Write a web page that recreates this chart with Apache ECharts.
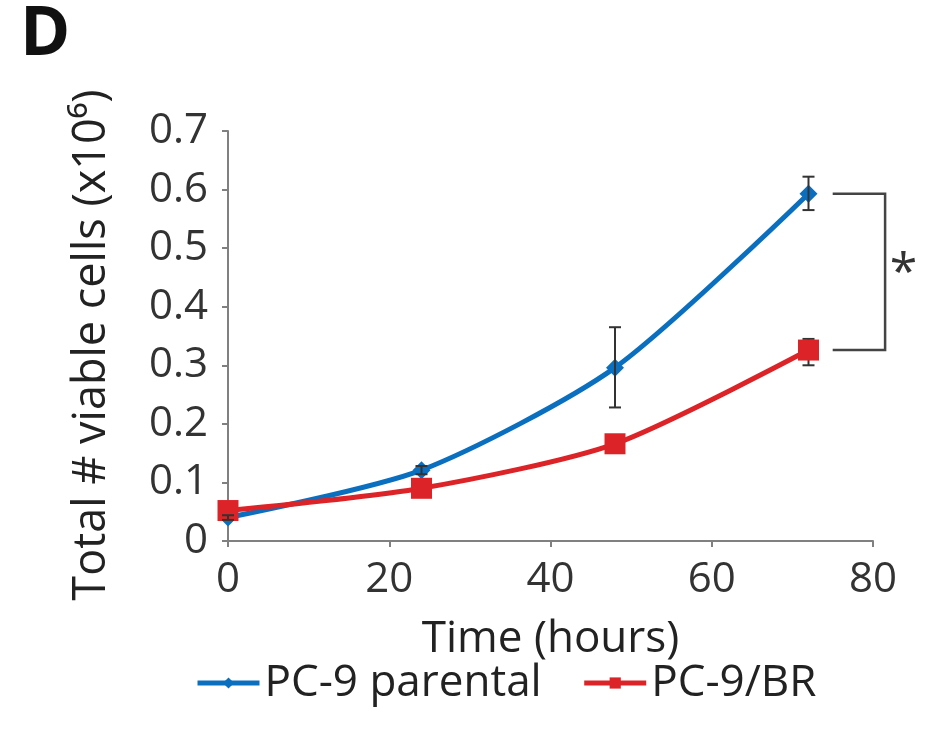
<!DOCTYPE html>
<html><head><meta charset="utf-8">
<script src="https://cdn.jsdelivr.net/npm/echarts@6/dist/echarts.min.js"></script>
<style>html,body{margin:0;padding:0;background:#fff}#c{width:930px;height:736px}</style>
</head><body><div id="c"></div>
<script>
var timePoints = [0, 24, 48, 72];
var parental = [0.040, 0.121, 0.296, 0.593];
var parentalLow = [0.036, 0.114, 0.228, 0.565];
var parentalHigh = [0.044, 0.128, 0.365, 0.622];
var resistant = [0.052, 0.090, 0.166, 0.326];
var resistantLow = [0.046, 0.084, 0.158, 0.300];
var resistantHigh = [0.058, 0.096, 0.174, 0.345];
var seriesNames = ['PC-9 parental', 'PC-9/BR'];
var xTicks = [0, 20, 40, 60, 80];
var yTicks = [0, 0.1, 0.2, 0.3, 0.4, 0.5, 0.6, 0.7];
var bracketX = [75, 81.5];
var asteriskPos = [83.8, 0.455];

var FONT = '"Open Sans", "Noto Sans", sans-serif';
var chart = echarts.init(document.getElementById('c'));

function errData(low, high) {
  return timePoints.map(function (t, i) { return [t, low[i], high[i]]; });
}
function errRender(params, api) {
  var x = api.value(0);
  var lo = api.coord([x, api.value(1)]);
  var hi = api.coord([x, api.value(2)]);
  var w = 6;
  var st = { stroke: '#333', lineWidth: 2 };
  return { type: 'group', children: [
    { type: 'line', shape: { x1: lo[0], y1: lo[1], x2: hi[0], y2: hi[1] }, style: st },
    { type: 'line', shape: { x1: lo[0] - w, y1: lo[1], x2: lo[0] + w, y2: lo[1] }, style: st },
    { type: 'line', shape: { x1: hi[0] - w, y1: hi[1], x2: hi[0] + w, y2: hi[1] }, style: st }
  ]};
}

chart.setOption({
  backgroundColor: '#fff',
  animation: false,
  title: {
    text: 'D', left: 15, top: -3,
    textStyle: { fontFamily: FONT, fontSize: 68, fontWeight: 'bold', color: '#111' }
  },
  grid: { left: 228, right: 57, top: 131, bottom: 195, containLabel: false },
  legend: {
    bottom: 26, left: 190,
    itemWidth: 62, itemHeight: 14, itemGap: 40,
    data: seriesNames,
    lineStyle: { width: 5 },
    textStyle: { fontFamily: FONT, fontSize: 44, color: '#222' }
  },
  xAxis: {
    type: 'value', min: 0, max: 80, interval: 20,
    name: 'Time (hours)', nameLocation: 'middle', nameGap: 76,
    nameTextStyle: { fontFamily: FONT, fontSize: 44, color: '#222' },
    axisLine: { lineStyle: { color: '#808080', width: 2 } },
    axisTick: { show: true, length: 6, lineStyle: { color: '#808080', width: 2 } },
    axisLabel: { fontFamily: FONT, fontSize: 42, color: '#333', margin: 18,
      formatter: function (v) { return xTicks.indexOf(v) >= 0 ? String(v) : ''; } },
    splitLine: { show: false }
  },
  yAxis: {
    type: 'value', min: 0, max: 0.7, interval: 0.1,
    name: 'Total # viable cells (x10\u2076)', nameLocation: 'middle', nameGap: 113,
    nameTextStyle: { fontFamily: FONT, fontSize: 45, color: '#222', padding: [0, 18, 0, 0] },
    axisLine: { show: true, lineStyle: { color: '#808080', width: 2 } },
    axisTick: { show: true, length: 6, lineStyle: { color: '#808080', width: 2 } },
    axisLabel: { fontFamily: FONT, fontSize: 42, color: '#333', margin: 20,
      formatter: function (v) {
        var r = Math.round(v * 10) / 10;
        return r === 0 ? '0' : r.toFixed(1);
      } },
    splitLine: { show: false }
  },
  series: [
    {
      name: seriesNames[0], type: 'line', smooth: 0.25,
      data: timePoints.map(function (t, i) { return [t, parental[i]]; }),
      symbol: 'diamond', symbolSize: 18,
      lineStyle: { color: '#0b6fc0', width: 5 },
      itemStyle: { color: '#0b6fc0' }, z: 3
    },
    {
      name: seriesNames[1], type: 'line', smooth: 0.25,
      data: timePoints.map(function (t, i) { return [t, resistant[i]]; }),
      symbol: 'rect', symbolSize: 21,
      lineStyle: { color: '#dc2428', width: 5 },
      itemStyle: { color: '#dc2428' }, z: 4
    },
    {
      type: 'custom', renderItem: errRender, data: errData(parentalLow, parentalHigh),
      encode: { x: 0, y: [1, 2] }, z: 5, silent: true
    },
    {
      type: 'custom', renderItem: errRender, data: errData(resistantLow, resistantHigh),
      encode: { x: 0, y: [1, 2] }, z: 2, silent: true
    },
    {
      type: 'custom', clip: false, silent: true, z: 5,
      data: [[bracketX[0], parental[3], resistant[3]]],
      encode: { x: 0, y: [1, 2] },
      renderItem: function (params, api) {
        var a = api.coord([bracketX[0], api.value(1)]);
        var b = api.coord([bracketX[1], api.value(1)]);
        var c = api.coord([bracketX[1], api.value(2)]);
        var d = api.coord([bracketX[0], api.value(2)]);
        var p = api.coord(asteriskPos);
        return { type: 'group', children: [
          { type: 'polyline', shape: { points: [a, b, c, d] },
            style: { stroke: '#444', lineWidth: 2.5, fill: null } },
          { type: 'text', x: p[0], y: p[1],
            style: { text: '*', fontFamily: FONT, fontSize: 50, fill: '#333',
                     align: 'center', verticalAlign: 'middle' } }
        ]};
      }
    }
  ]
});
</script></body></html>
